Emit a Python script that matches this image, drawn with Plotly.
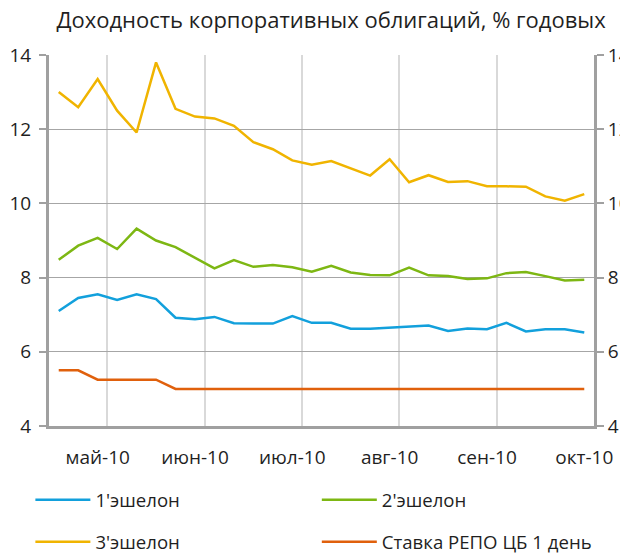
import plotly.graph_objects as go

month_labels = ["май-10", "июн-10", "июл-10", "авг-10", "сен-10", "окт-10"]

echelon1 = [7.10, 7.45, 7.55, 7.40, 7.55, 7.42, 6.92, 6.88, 6.94, 6.77, 6.76, 6.76, 6.96, 6.78,
            6.78, 6.62, 6.62, 6.65, 6.68, 6.71, 6.56, 6.63, 6.61, 6.78, 6.55, 6.61, 6.61, 6.52]
echelon2 = [8.48, 8.86, 9.07, 8.77, 9.32, 9.00, 8.82, 8.53, 8.25, 8.47, 8.29, 8.34, 8.28, 8.16,
            8.32, 8.14, 8.07, 8.06, 8.27, 8.06, 8.04, 7.96, 7.98, 8.12, 8.15, 8.04, 7.92, 7.94]
echelon3 = [13.00, 12.59, 13.35, 12.50, 11.91, 13.80, 12.55, 12.34, 12.29, 12.09, 11.65, 11.46, 11.16, 11.04,
            11.14, 10.94, 10.75, 11.19, 10.57, 10.76, 10.58, 10.60, 10.46, 10.46, 10.45, 10.19, 10.07, 10.25]
repo = [5.50, 5.50, 5.25, 5.25, 5.25, 5.25, 5.00, 5.00, 5.00, 5.00, 5.00, 5.00, 5.00, 5.00,
        5.00, 5.00, 5.00, 5.00, 5.00, 5.00, 5.00, 5.00, 5.00, 5.00, 5.00, 5.00, 5.00, 5.00]

n = len(echelon1)
x = list(range(n))
step = 5
first_label = 2
tickvals = [first_label + step * k for k in range(len(month_labels))]

FONT = "Open Sans"
TXT = "#1f1f1f"
AX = "#a0a0a0"

# legend slots: (legend id, container x, container y)
fig = go.Figure()
series = [
    ("1'эшелон", echelon1, "#12a0dc", "legend", "y", 0.049, 0.099),
    ("2'эшелон", echelon2, "#7db713", "legend2", "y", 0.511, 0.099),
    ("3'эшелон", echelon3, "#f0b400", "legend3", "y", 0.049, 0.023),
    ("Ставка РЕПО ЦБ 1 день", repo, "#e0600c", "legend4", "y2", 0.511, 0.023),
]
legends = {}
for name, vals, col, lg, ya, lx, ly in series:
    fig.add_trace(go.Scatter(x=x, y=vals, name=name, mode="lines",
                             line=dict(color=col, width=2.5),
                             legend=lg, yaxis=ya))
    legends[lg] = dict(x=lx, y=ly, orientation="h", xanchor="left", yanchor="middle",
                       xref="container", yref="container",
                       font=dict(family=FONT, size=18.6, color=TXT),
                       bgcolor="rgba(0,0,0,0)", itemwidth=55)

fig.update_layout(
    width=620, height=555,
    margin=dict(l=49, r=26, t=55, b=129, autoexpand=False),
    paper_bgcolor="white", plot_bgcolor="white",
    font=dict(family=FONT, color=TXT),
    title=dict(text="Доходность корпоративных облигаций, % годовых",
               x=0.534, xanchor="center", y=0.964, yanchor="middle",
               font=dict(family=FONT, size=22, color=TXT)),
    showlegend=True,
    xaxis=dict(range=[-0.5, n - 0.5], tickmode="array", tickvals=tickvals,
               ticktext=month_labels, showgrid=False, zeroline=False,
               ticks="", ticklen=0, ticklabelstandoff=12,
               tickfont=dict(family=FONT, size=19, color=TXT),
               showline=True, linecolor=AX, linewidth=3,
               minor=dict(tickmode="linear", tick0=first_label + 0.5, dtick=step,
                          showgrid=True, gridcolor="#d9d9d9", gridwidth=2, ticks="")),
    yaxis=dict(range=[4, 14], dtick=2, showgrid=True, gridcolor="#a6a6a6", gridwidth=1,
               zeroline=False, showline=True, linecolor=AX, linewidth=3,
               ticks="outside", ticklen=7, tickcolor=AX, tickwidth=2, ticklabelstandoff=4,
               tickfont=dict(family=FONT, size=19, color=TXT)),
    yaxis2=dict(range=[4, 14], dtick=2, overlaying="y", side="right", showgrid=False,
                zeroline=False, showline=True, linecolor=AX, linewidth=3,
                ticks="outside", ticklen=7, tickcolor=AX, tickwidth=2, ticklabelstandoff=0,
                tickfont=dict(family=FONT, size=19, color=TXT)),
    **legends,
)

fig.write_html("out.html", config={"displayModeBar": False},
               post_script="document.body.style.margin='0';")
